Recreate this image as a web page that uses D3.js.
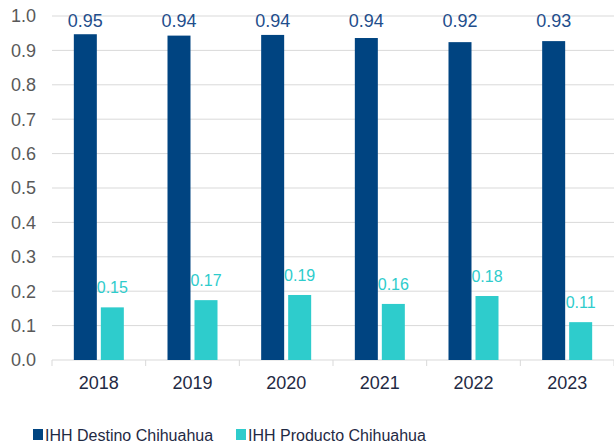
<!DOCTYPE html>
<html>
<head>
<meta charset="utf-8">
<script src="https://cdn.jsdelivr.net/npm/d3@7"></script>
<style>
  body { margin: 0; background: #fff; }
  text { font-family: "Liberation Sans", Arial, sans-serif; }
</style>
</head>
<body>
<div id="chart"></div>
<script>
var years = ["2018", "2019", "2020", "2021", "2022", "2023"];
var destino = [0.947, 0.943, 0.945, 0.936, 0.924, 0.927];
var producto = [0.153, 0.174, 0.189, 0.163, 0.186, 0.110];
var destinoLabels = ["0.95", "0.94", "0.94", "0.94", "0.92", "0.93"];
var productoLabels = ["0.15", "0.17", "0.19", "0.16", "0.18", "0.11"];
var yTicks = [0, 0.1, 0.2, 0.3, 0.4, 0.5, 0.6, 0.7, 0.8, 0.9, 1.0];
var seriesNames = ["IHH Destino Chihuahua", "IHH Producto Chihuahua"];

var colorDark = "#004481", colorLight = "#2ECCCC";

var width = 614, height = 445;
var margin = {top: 16, right: 0, bottom: 85, left: 52};
var innerW = 562, innerH = height - margin.top - margin.bottom;

var svg = d3.select("#chart").append("svg")
    .attr("width", width)
    .attr("height", height);

var g = svg.append("g")
    .attr("transform", "translate(" + margin.left + "," + margin.top + ")");

var x = d3.scaleBand().domain(years).range([0, innerW]);
var y = d3.scaleLinear().domain([0, 1]).range([innerH, 0]);

var barW = 23, gap = 4;

// gridlines
g.append("g")
  .selectAll("line")
  .data(yTicks.slice(1))
  .enter().append("line")
    .attr("x1", 0).attr("x2", innerW)
    .attr("y1", d => y(d)).attr("y2", d => y(d))
    .attr("stroke", "#d9d9d9")
    .attr("stroke-width", 1);

// y labels
g.append("g")
  .selectAll("text")
  .data(yTicks)
  .enter().append("text")
    .attr("x", -16)
    .attr("y", d => y(d))
    .attr("dy", "0.35em")
    .attr("text-anchor", "end")
    .style("font-size", "18px")
    .style("fill", "#595959")
    .text(d => d3.format(".1f")(d));

// x axis
var xAxis = g.append("g")
    .attr("transform", "translate(0," + innerH + ")");
xAxis.append("line")
    .attr("x1", 0).attr("x2", innerW)
    .attr("stroke", "#d9d9d9");
xAxis.selectAll(".tk")
  .data(d3.range(years.length + 1))
  .enter().append("line")
    .attr("x1", d => d * x.step()).attr("x2", d => d * x.step())
    .attr("y1", 0).attr("y2", 6)
    .attr("stroke", "#d9d9d9");
xAxis.selectAll(".lbl")
  .data(years)
  .enter().append("text")
    .attr("x", d => x(d) + x.bandwidth() / 2)
    .attr("y", 23)
    .attr("dy", "0.35em")
    .attr("text-anchor", "middle")
    .style("font-size", "18px")
    .style("fill", "#1F2A44")
    .text(d => d);

// bars
var center = d => x(d) + x.bandwidth() / 2;

g.append("g").selectAll("rect")
  .data(years)
  .enter().append("rect")
    .attr("x", d => center(d) - gap / 2 - barW)
    .attr("y", (d, i) => y(destino[i]))
    .attr("width", barW)
    .attr("height", (d, i) => innerH - y(destino[i]))
    .attr("fill", colorDark);

g.append("g").selectAll("rect")
  .data(years)
  .enter().append("rect")
    .attr("x", d => center(d) + gap / 2)
    .attr("y", (d, i) => y(producto[i]))
    .attr("width", barW)
    .attr("height", (d, i) => innerH - y(producto[i]))
    .attr("fill", colorLight);

// labels
g.append("g").selectAll("text")
  .data(years)
  .enter().append("text")
    .attr("x", d => center(d) - gap / 2 - barW / 2)
    .attr("y", y(1) + 11)
    .attr("text-anchor", "middle")
    .style("font-size", "18px")
    .style("fill", "#1F4E8C")
    .text((d, i) => destinoLabels[i]);

g.append("g").selectAll("text")
  .data(years)
  .enter().append("text")
    .attr("x", d => center(d) + gap / 2 + barW / 2)
    .attr("y", (d, i) => y(producto[i]) - 14)
    .attr("text-anchor", "middle")
    .style("font-size", "16px")
    .style("fill", colorLight)
    .text((d, i) => productoLabels[i]);

// legend
var legend = svg.append("g").attr("transform", "translate(33,429)");
var legX = [0, 203];
seriesNames.forEach(function(name, i) {
  legend.append("rect")
    .attr("x", legX[i]).attr("y", 0)
    .attr("width", 10).attr("height", 11)
    .attr("fill", i === 0 ? colorDark : colorLight);
  legend.append("text")
    .attr("x", legX[i] + 12).attr("y", 6)
    .attr("dy", "0.35em")
    .style("font-size", "16px")
    .style("fill", "#1F2A44")
    .text(name);
});
</script>
</body>
</html>
